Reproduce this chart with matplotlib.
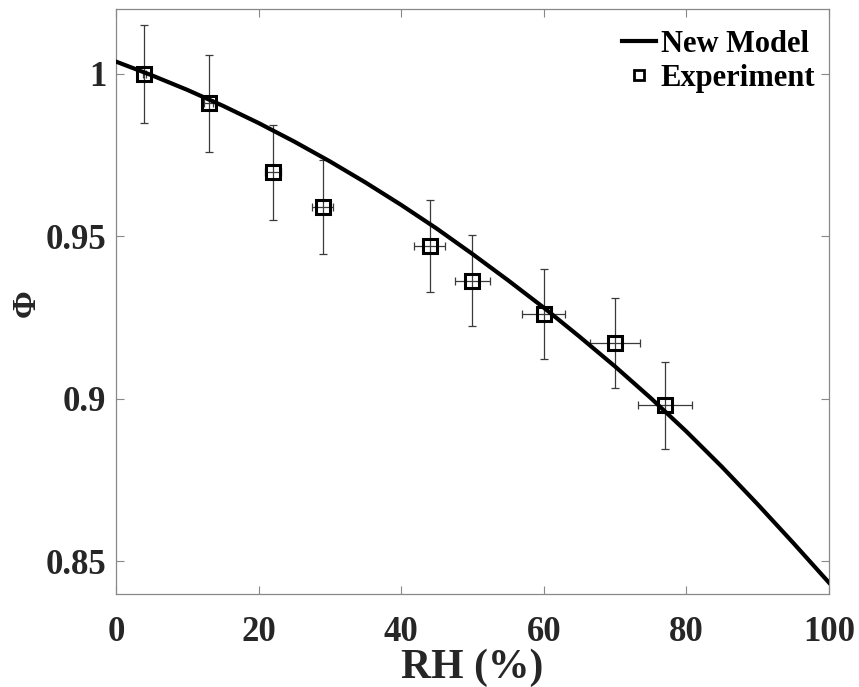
import matplotlib
matplotlib.use("Agg")
import matplotlib.pyplot as plt

# Model curve Φ(RH)
model_rh = [0, 5, 10, 15, 20, 25, 30, 35, 40, 45, 50, 55, 60, 65, 70, 75, 80, 85, 90, 95, 100]
model_phi = [1.0038, 0.9996, 0.9951, 0.9902, 0.9849, 0.9792, 0.9731, 0.9666, 0.9597, 0.9524,
             0.9446, 0.9365, 0.9281, 0.9192, 0.9100, 0.9003, 0.8900, 0.8791, 0.8676, 0.8557, 0.8435]

# Measurements with uncertainties
exp_rh = [4, 13, 22, 29, 44, 50, 60, 70, 77]
exp_phi = [1.000, 0.991, 0.9697, 0.9591, 0.9470, 0.9363, 0.9261, 0.9172, 0.8980]
exp_rh_err = [0.2, 0.65, 1.1, 1.45, 2.2, 2.5, 3.0, 3.5, 3.85]
exp_phi_err = [0.0150, 0.0149, 0.0146, 0.0144, 0.0142, 0.0140, 0.0139, 0.0138, 0.0135]

x_ticks = [0, 20, 40, 60, 80, 100]
y_ticks = [0.85, 0.9, 0.95, 1.0]
y_tick_labels = ["0.85", "0.9", "0.95", "1"]

plt.rcParams["font.family"] = ["Liberation Serif", "DejaVu Serif"]
plt.rcParams["font.weight"] = "bold"

fig = plt.figure(figsize=(8.59, 6.87), dpi=100)
ax = fig.add_axes([0.135, 0.1354, 0.83, 0.8516])

ax.errorbar(exp_rh, exp_phi, xerr=exp_rh_err, yerr=exp_phi_err, fmt="none",
            ecolor="#3a3a3a", elinewidth=0.9, capsize=3, capthick=0.9, zorder=2)
ax.plot(model_rh, model_phi, color="black", lw=3.0, label="New Model", zorder=3)
ax.plot(exp_rh, exp_phi, "s", ms=9.5, mew=2.2, mec="black", mfc="none",
        label="Experiment", zorder=4)

ax.set_xlim(0, 100)
ax.set_ylim(0.84, 1.02)
ax.set_xticks(x_ticks)
ax.set_yticks(y_ticks)
ax.set_yticklabels(y_tick_labels)

ax.tick_params(direction="in", length=6, width=0.8, color="#888888",
               top=True, right=True, labelsize=25, labelcolor="#262626")
ax.tick_params(axis="y", pad=7)
ax.tick_params(axis="x", pad=16)
for lbl in ax.get_xticklabels() + ax.get_yticklabels():
    lbl.set_fontweight("bold")
for sp in ax.spines.values():
    sp.set_color("#888888")
    sp.set_linewidth(0.9)

ax.set_xlabel("RH (%)", fontsize=30, fontweight="bold", color="#262626")
ax.xaxis.set_label_coords(0.5, -0.093)
ax.set_ylabel("Φ", fontsize=24, fontweight="bold", color="#262626")
ax.yaxis.set_label_coords(-0.104, 0.497)

leg = ax.legend(loc="upper right", frameon=False, handlelength=1.1,
                handletextpad=0.15, borderaxespad=0.0, labelspacing=0.15,
                bbox_to_anchor=(0.998, 0.985),
                prop={"weight": "bold", "size": 22})
leg.legend_handles[1].set_markersize(7)
leg.legend_handles[1].set_markeredgewidth(2)

fig.savefig("out.png", dpi=100)
